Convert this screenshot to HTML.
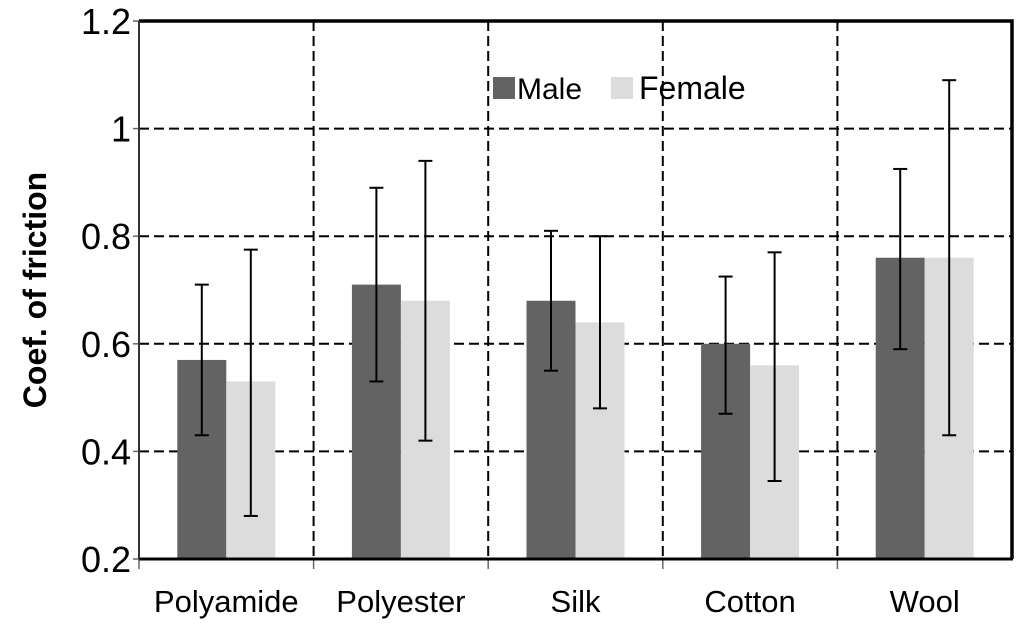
<!DOCTYPE html>
<html><head><meta charset="utf-8"><style>
html,body{margin:0;padding:0;background:#fff;}
svg{display:block;font-family:"Liberation Sans",Arial,sans-serif;}
</style></head><body>
<svg id="chart" width="1024" height="625"></svg>
<script>
const categories=["Polyamide","Polyester","Silk","Cotton","Wool"];
const maleValues=[0.57,0.71,0.68,0.60,0.76];
const maleLow=[0.43,0.53,0.55,0.47,0.59];
const maleHigh=[0.71,0.89,0.81,0.725,0.925];
const femaleValues=[0.53,0.68,0.64,0.56,0.76];
const femaleLow=[0.28,0.42,0.48,0.345,0.43];
const femaleHigh=[0.775,0.94,0.80,0.77,1.09];
const yTicks=[0.2,0.4,0.6,0.8,1,1.2];

const NS="http://www.w3.org/2000/svg";
const svg=document.getElementById('chart');
const L=139,R=1012,T=21,B=559;
const yMin=0.2,yMax=1.2;
function y(v){return B-(v-yMin)/(yMax-yMin)*(B-T);}
const bw=(R-L)/categories.length;
function xc(i){return L+bw*(i+0.5);}
function mk(tag,attrs){const e=document.createElementNS(NS,tag);for(const k in attrs)e.setAttribute(k,attrs[k]);svg.appendChild(e);return e;}

yTicks.forEach((t,i)=>{
  if(i>0&&i<yTicks.length-1){
    const g=mk('line',{x1:L,x2:R,y1:y(t),y2:y(t),stroke:'#000','stroke-width':2,'stroke-dasharray':'10,5'});
    
    
  }
  const tl=mk('text',{x:L-8,y:y(t)+13,'text-anchor':'end','font-size':36,fill:'#000'});
  tl.textContent=String(t);
  
  
  const tk=mk('line',{x1:L-6,x2:L,y1:y(t),y2:y(t),stroke:'#666','stroke-width':1.5});
  
  
});
for(let i=1;i<categories.length;i++){
  const x=L+bw*i;
  const g=mk('line',{x1:x,x2:x,y1:T,y2:B,stroke:'#000','stroke-width':2,'stroke-dasharray':'10,5'});
  
  
  const tk=mk('line',{x1:x,x2:x,y1:B,y2:B+10,stroke:'#666','stroke-width':1.5});
  
  
}
const tk0=mk('line',{x1:L,x2:L,y1:B,y2:B+10,stroke:'#666','stroke-width':1.5});



const barW=49;
categories.forEach((c,i)=>{
  const cx=xc(i);
  const mb=mk('rect',{x:cx-barW,y:y(maleValues[i]),width:barW,height:B-y(maleValues[i]),fill:'#636363'});
  
  
  const fb=mk('rect',{x:cx,y:y(femaleValues[i]),width:barW,height:B-y(femaleValues[i]),fill:'#dcdcdc'});
  
  
  [[cx-barW/2,maleLow[i],maleHigh[i],'male'],[cx+barW/2,femaleLow[i],femaleHigh[i],'female']].forEach(e=>{
    const g=document.createElementNS(NS,'g');svg.appendChild(g);
    
    
    [[e[0],e[0],y(e[1]),y(e[2])],[e[0]-7,e[0]+7,y(e[1]),y(e[1])],[e[0]-7,e[0]+7,y(e[2]),y(e[2])]].forEach(p=>{
      const l=document.createElementNS(NS,'line');
      l.setAttribute('x1',p[0]);l.setAttribute('x2',p[1]);l.setAttribute('y1',p[2]);l.setAttribute('y2',p[3]);
      l.setAttribute('stroke','#000');l.setAttribute('stroke-width',2);g.appendChild(l);
    });
  });
  const xl=mk('text',{x:cx,y:612,'text-anchor':'middle','font-size':31,fill:'#000'});
  xl.textContent=c;
  
  
});
const fr=mk('path',{d:`M${L},${T} L${R},${T} L${R},${B}`,fill:'none',stroke:'#000','stroke-width':3.5});


const xa=mk('line',{x1:L,x2:R+1,y1:B,y2:B,stroke:'#000','stroke-width':3});


const ya=mk('line',{x1:L,x2:L,y1:T,y2:B,stroke:'#333','stroke-width':2});


const lg=document.createElementNS(NS,'g');svg.appendChild(lg);


lg.innerHTML='<rect x="493" y="77" width="22" height="22" fill="#636363"/>'+
'<text x="517" y="99" font-size="30">Male</text>'+
'<rect x="611" y="77" width="22" height="22" fill="#dcdcdc"/>'+
'<text x="639" y="99" font-size="32">Female</text>';
const yt=mk('text',{x:0,y:0,'text-anchor':'middle','font-size':32,'font-weight':'bold',transform:'translate(46,290) rotate(-90)'});
yt.textContent='Coef. of friction';


</script>
</body></html>
